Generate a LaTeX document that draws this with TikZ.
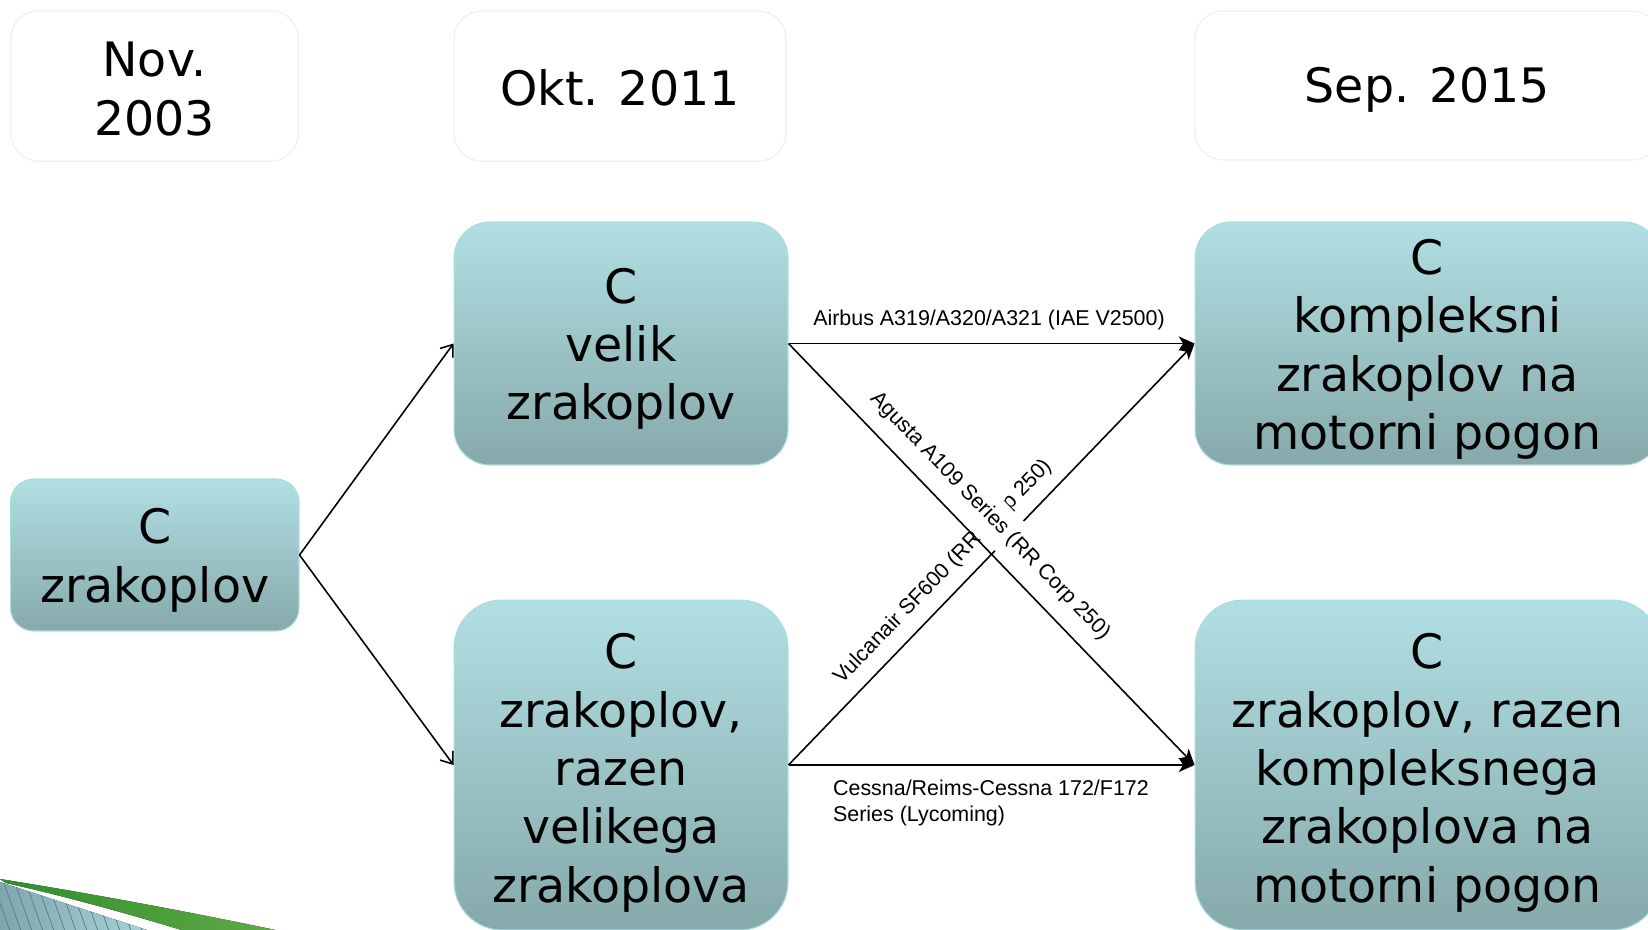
\documentclass[tikz,border=0pt]{standalone}
\usepackage{fontspec}
\setmainfont{DejaVu Sans}
\newfontfamily\labfont{Liberation Sans}
\usetikzlibrary{arrows.meta,shadings}
\definecolor{boxtop}{HTML}{B1DFE3}
\definecolor{boxbot}{HTML}{86A9AB}
\definecolor{boxline}{HTML}{ABDCE0}
\definecolor{hdrline}{HTML}{EFEFEF}
\definecolor{grnA}{HTML}{2E8F2A}
\definecolor{grnB}{HTML}{62AA48}
\definecolor{tealA}{HTML}{7FA6AD}
\definecolor{tealB}{HTML}{A9D8DC}
\definecolor{stripe}{HTML}{5C7784}
\begin{document}
\begin{tikzpicture}[x=0.02cm,y=-0.02cm,
  bigfont/.style={font=\fontsize{27}{33.2}\selectfont},
  txt/.style={align=center, inner sep=0pt, bigfont},
  cbox/.style={draw=boxline, line width=0.6pt, top color=boxtop, bottom color=boxbot, inner sep=0pt},
  hbox/.style={draw=hdrline, line width=0.6pt, fill=white, rounded corners=0.56cm, inner sep=0pt},
  lab/.style={font=\labfont\fontsize{12.2}{14.3}\selectfont, inner sep=1pt},
  arrL/.style={-{Straight Barb[length=6pt,width=9pt]}, line width=0.9pt},
  arrR/.style={-{Stealth[length=9pt,width=8pt,inset=2.5pt]}, line width=0.9pt}]
\useasboundingbox (0,0) rectangle (1648,929);
\clip (0,0) rectangle (1648,929);

% headers
\node[hbox, minimum width=5.76cm, minimum height=3.01cm,
  label={[txt, yshift=-1.7pt]center:{Nov.\\2003}}] (h1) at (154.5,86) {};
\node[hbox, minimum width=6.64cm, minimum height=3.01cm,
  label={[txt, yshift=-1.2pt]center:{Okt. 2011}}] (h2) at (620,86) {};
\node[hbox, minimum width=9.3cm, minimum height=2.98cm,
  label={[txt, yshift=-2.6pt]center:{Sep. 2015}}] (h3) at (1427.5,85.5) {};

% main boxes
\node[cbox, rounded corners=0.46cm, minimum width=5.77cm, minimum height=3.04cm,
  label={[txt, yshift=-3pt]center:{C\\zrakoplov}}] (cz) at (154.75,555) {};
\node[cbox, rounded corners=0.72cm, minimum width=6.68cm, minimum height=4.86cm,
  label={[txt, yshift=-3pt]center:{C\\velik\\zrakoplov}}] (velik) at (621,343.5) {};
\node[cbox, rounded corners=0.96cm, minimum width=6.68cm, minimum height=6.6cm,
  label={[txt, yshift=-4.5pt]center:{C\\zrakoplov,\\razen\\velikega\\zrakoplova}}] (razv) at (621,765) {};
\node[cbox, rounded corners=0.72cm, minimum width=9.3cm, minimum height=4.86cm,
  label={[txt, yshift=-3.4pt]center:{C\\kompleksni\\zrakoplov na\\motorni pogon}}] (komp) at (1427.5,343.5) {};
\node[cbox, rounded corners=0.96cm, minimum width=9.3cm, minimum height=6.6cm,
  label={[txt, yshift=-4.5pt]center:{C\\zrakoplov, razen\\kompleksnega\\zrakoplova na\\motorni pogon}}] (razk) at (1427.5,765) {};

% connectors
\draw[arrL] (cz.east) -- (velik.west);
\draw[arrL] (cz.east) -- (razv.west);
\draw[arrR] (velik.east) -- (komp.west);
\node[lab] (lairbus) at (989,319.5) {Airbus A319/A320/A321 (IAE V2500)};
\draw[arrR] (razv.east) -- (razk.west);
\node[lab, anchor=west, align=left] (lcessna) at (831,803) {Cessna/Reims-Cessna 172/F172\\Series (Lycoming)};
\draw[arrR] (razv.east) -- (komp.west);
\node[lab, rotate=46] (lvulc) at (943,572) {Vulcanair SF600 (RR Corp 250)};
\draw[arrR] (velik.east) -- (razk.west);
\node[lab, rotate=-46, fill=white, inner ysep=6pt] (lagusta) at (990,516) {Agusta A109 Series (RR Corp 250)};

% bottom-left decoration
\begin{scope}
  \clip (0,882) -- (150,931) -- (0,931) -- cycle;
  \fill[left color=tealA, right color=tealB] (0,870) rectangle (160,935);
  \foreach \i in {-8,...,16} \draw[stripe, line width=0.4pt] (\i*11,872) -- (\i*11+22,934);
\end{scope}
\fill[left color=grnA, right color=grnB] (0,879) .. controls (100,895) and (200,914) .. (285,932)
  -- (188,932) .. controls (130,914) and (60,895) .. (6,883) -- cycle;
\end{tikzpicture}
\end{document}
